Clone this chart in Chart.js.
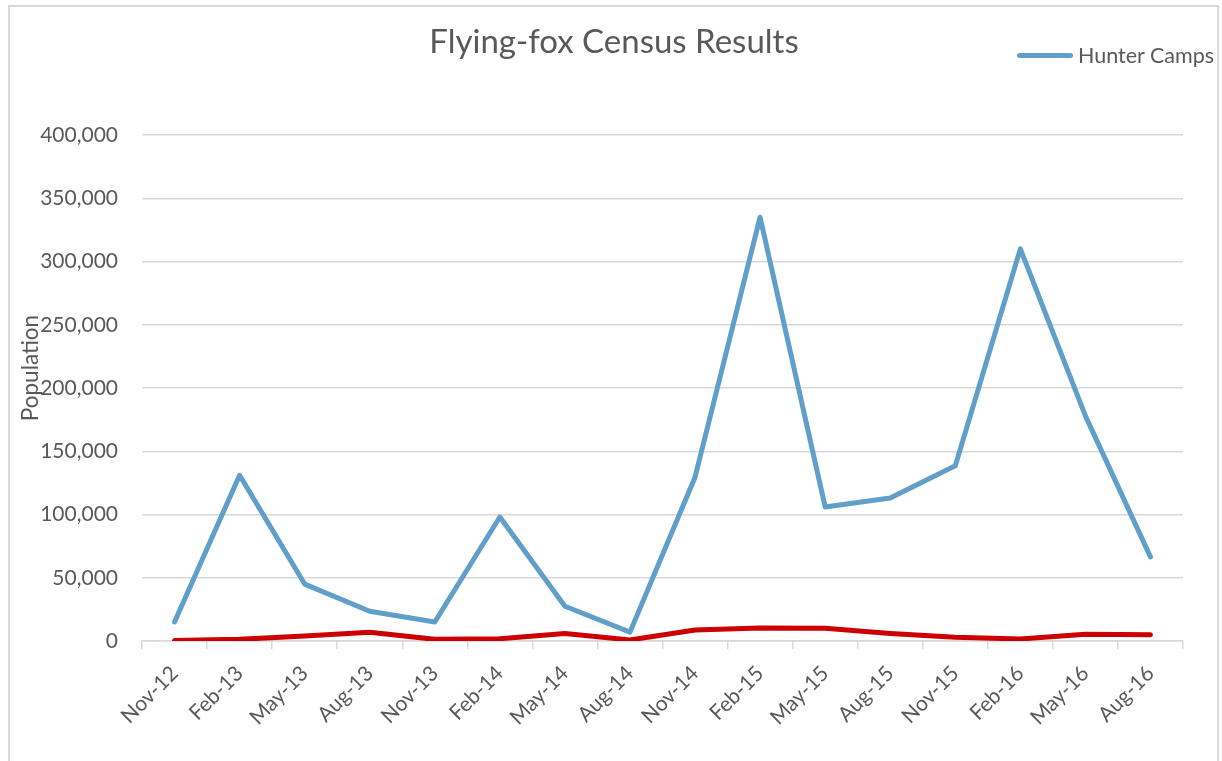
<!DOCTYPE html>
<html>
<head>
<meta charset="utf-8">
<script src="https://cdn.jsdelivr.net/npm/chart.js@4"></script>
<style>
  html, body { margin: 0; padding: 0; background: #fff; overflow: hidden; }
  body { width: 1222px; height: 761px; position: relative; font-family: Lato, "Open Sans", sans-serif; color: #595959; }
  .frame { position: absolute; left: 8px; top: 5px; width: 1211px; height: 800px; border: 2px solid #d9d9d9; box-sizing: border-box; }
  #chart { position: absolute; left: 0; top: 0; }
  .title { position: absolute; left: 0; width: 1228px; top: 20px; text-align: center; font-size: 33px; line-height: 40px; }
  .legend { position: absolute; left: 1017px; top: 42px; display: flex; align-items: center; font-size: 21.5px; line-height: 26px; white-space: nowrap; }
  .legend .swatch { width: 56px; height: 5px; border-radius: 3px; margin-right: 5px; }
</style>
</head>
<body>
<div class="frame"></div>
<canvas id="chart" width="1222" height="761"></canvas>
<div class="title">Flying-fox Census Results</div>
<div class="legend" id="legend"></div>
<script>
// Census dates (quarterly)
const labels = ['Nov-12', 'Feb-13', 'May-13', 'Aug-13', 'Nov-13', 'Feb-14', 'May-14', 'Aug-14',
  'Nov-14', 'Feb-15', 'May-15', 'Aug-15', 'Nov-15', 'Feb-16', 'May-16', 'Aug-16'];

// Hunter camps total
const hunterCamps = [15000, 131000, 45000, 23500, 15000, 98000, 27500, 7000,
  129500, 335000, 106000, 113000, 138500, 310000, 178000, 66500];

// second series (not shown in legend)
const otherCamps = [300, 1300, 4000, 6900, 1300, 1800, 6000, 800,
  8700, 10300, 10000, 6000, 2900, 1600, 5300, 5000];

const yTicks = [0, 50000, 100000, 150000, 200000, 250000, 300000, 350000, 400000];

const TEXT = '#595959';
const GRID = '#d9d9d9';
const BLUE = '#5f9fc9';
const RED = '#cc0000';

const datasets = [
  { label: 'Hunter Camps', data: hunterCamps, borderColor: BLUE, showInLegend: true },
  { label: 'Other Camps', data: otherCamps, borderColor: RED, showInLegend: false }
].map(d => ({
  ...d,
  backgroundColor: d.borderColor,
  borderWidth: 5,
  borderCapStyle: 'round',
  borderJoinStyle: 'round',
  pointRadius: 0,
  pointHoverRadius: 0,
  tension: 0,
  fill: false
}));

// HTML legend built from the datasets
document.getElementById('legend').innerHTML = datasets
  .filter(d => d.showInLegend)
  .map(d => `<span class="swatch" style="background:${d.borderColor}"></span><span>${d.label}</span>`)
  .join('');

// y axis title sits a bit above the middle of the axis, like the original
const yTitle = {
  id: 'yTitle',
  afterDraw(chart) {
    const { ctx, chartArea } = chart;
    ctx.save();
    ctx.translate(31, (chartArea.top + chartArea.bottom) / 2 - 20);
    ctx.rotate(-Math.PI / 2);
    ctx.font = '22.5px Lato';
    ctx.fillStyle = TEXT;
    ctx.textAlign = 'center';
    ctx.textBaseline = 'middle';
    ctx.fillText('Population', 0, 0);
    ctx.restore();
  }
};

new Chart(document.getElementById('chart'), {
  type: 'line',
  data: { labels, datasets },
  plugins: [yTitle],
  options: {
    responsive: false,
    animation: false,
    layout: { padding: { left: 0, right: 39, top: 135, bottom: 0 } },
    plugins: {
      legend: { display: false },
      title: { display: false },
      tooltip: { enabled: false }
    },
    scales: {
      x: {
        type: 'category',
        offset: true,
        afterFit: scale => { scale.height = 120; },
        grid: {
          offset: true,
          drawOnChartArea: false,
          drawTicks: true,
          tickLength: 8,
          color: GRID,
          lineWidth: 1.5
        },
        border: { display: true, color: GRID, width: 1.5 },
        ticks: {
          autoSkip: false,
          minRotation: 45,
          maxRotation: 45,
          padding: 12,
          color: TEXT,
          font: { family: 'Lato', size: 21 }
        }
      },
      y: {
        min: 0,
        max: 400000,
        afterFit: scale => { scale.width = 142; },
        afterBuildTicks: scale => { scale.ticks = yTicks.map(v => ({ value: v })); },
        grid: { color: GRID, lineWidth: 1.5, drawTicks: false },
        border: { display: false },
        ticks: {
          padding: 24,
          color: TEXT,
          font: { family: 'Lato', size: 21 },
          callback: v => v.toLocaleString('en-US')
        }
      }
    }
  }
});
</script>
</body>
</html>
